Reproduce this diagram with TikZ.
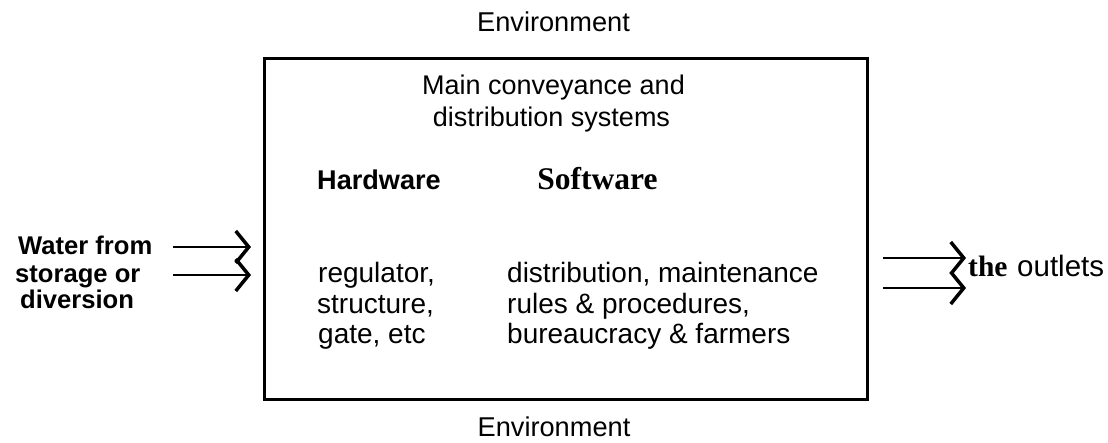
\documentclass[tikz,border=0pt]{standalone}
\usepackage{fontspec}
\setmainfont{Liberation Sans}
\newfontfamily\serifbold{Liberation Serif}
\usetikzlibrary{arrows.meta}
\begin{document}
\begin{tikzpicture}[x=1pt,y=-1pt,
  env/.style={inner sep=0pt, anchor=base, font=\fontsize{27.2}{30}\selectfont},
  ttl/.style={inner sep=0pt, anchor=base, font=\fontsize{27}{32}\selectfont},
  head/.style={inner sep=0pt, anchor=base, font=\fontsize{27.1}{30}\selectfont\bfseries},
  shead/.style={inner sep=0pt, anchor=base, font=\fontsize{31.5}{34}\selectfont\serifbold\bfseries},
  item/.style={inner sep=0pt, anchor=base west, font=\fontsize{28}{30}\selectfont},
  src/.style={inner sep=0pt, anchor=base west, font=\fontsize{25.6}{28}\selectfont\bfseries},
  outs/.style={inner sep=0pt, anchor=base west, font=\fontsize{29.5}{32}\selectfont},
  frame/.style={draw, line width=3pt, inner sep=0pt, minimum width=603pt, minimum height=340.5pt},
  flow/.style={line width=2pt, -{Straight Barb[length=13pt,width=32pt,line width=3.5pt]}}
]
\useasboundingbox (0,0) rectangle (1108,443);
\node[frame] (box) at (565.5,228.75) {};
\node[env] (envtop) at (553.5,32) {Environment};
\node[env] (envbot) at (554,436.5) {Environment};
\node[ttl] (t1) at (553.5,95) {Main conveyance and};
\node[ttl] (t2) at (551.5,127) {distribution systems};
\node[head] (hw) at (379,190) {Hardware};
\node[shead] (sw) at (597.5,190) {Software};
\node[item] (h1) at (318,283) {regulator,};
\node[item] (h2) at (317,313.5) {structure,};
\node[item] (h3) at (318,344) {gate, etc};
\node[item] (s1) at (507,283) {distribution, maintenance};
\node[item] (s2) at (507,313.5) {rules \& procedures,};
\node[item] (s3) at (507,344) {bureaucracy \& farmers};
\node[src] (w1) at (18,255) {Water from};
\node[src] (w2) at (15,283) {storage or};
\node[src] (w3) at (20,309) {diversion};
\node[outs] (o1) at (968,277) {\serifbold\bfseries the};
\node[outs] (o2) at (1017,277) {outlets};
\coordinate (la1) at (173,247);
\coordinate (lb1) at (251,247);
\coordinate (la2) at (173,275);
\coordinate (lb2) at (251,275);
\coordinate (ra1) at (883,258);
\coordinate (rb1) at (966,258);
\coordinate (ra2) at (883,288);
\coordinate (rb2) at (966,288);
\draw[flow] (la1) -- (lb1);
\draw[flow] (la2) -- (lb2);
\draw[flow] (ra1) -- (rb1);
\draw[flow] (ra2) -- (rb2);
\end{tikzpicture}
\end{document}
